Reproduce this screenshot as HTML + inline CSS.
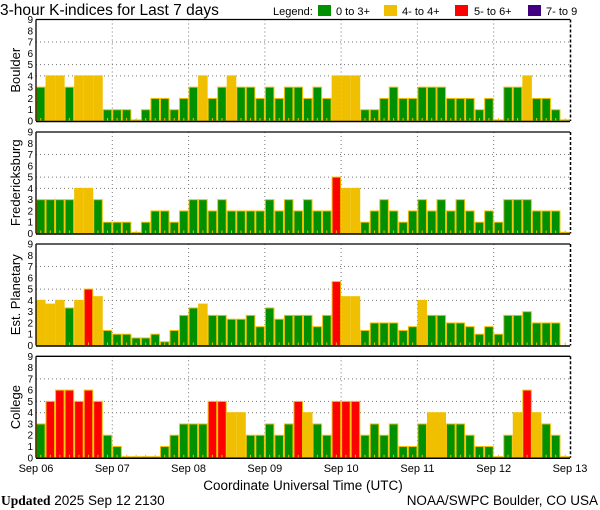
<!DOCTYPE html>
<html><head><meta charset="utf-8">
<style>
html,body{margin:0;padding:0;background:#fff;width:600px;height:510px;overflow:hidden}
svg{display:block}
text{font-family:"Liberation Sans",sans-serif}
</style></head>
<body>
<svg id="chart" width="600" height="510" viewBox="0 0 600 510" xmlns="http://www.w3.org/2000/svg">
  <text x="0" y="15" font-size="15.5" fill="#000">3-hour K-indices for Last 7 days</text>
  <g font-size="11">
    <text x="273" y="15">Legend:</text>
    <rect x="318" y="5" width="13" height="11" fill="#009000"/>
    <text x="336" y="15">0 to 3+</text>
    <rect x="384" y="5" width="13" height="11" fill="#f0c000"/>
    <text x="402" y="15">4- to 4+</text>
    <rect x="455" y="5" width="13" height="11" fill="#ff0000"/>
    <text x="474" y="15">5- to 6+</text>
    <rect x="528" y="5" width="13" height="11" fill="#400080"/>
    <text x="546" y="15">7- to 9</text>
  </g>
  <g id="panels"></g>
  <g id="xaxis"></g>
  <text x="303" y="490" font-size="13.5" text-anchor="middle">Coordinate Universal Time (UTC)</text>
  <text x="1" y="505" font-size="13.5"><tspan font-family="Liberation Serif, serif" font-weight="bold">Updated</tspan> 2025 Sep 12 2130</text>
  <text x="598" y="505" font-size="13.5" text-anchor="end">NOAA/SWPC Boulder, CO USA</text>
</svg>
<script>
const dayLabels = ["Sep 06","Sep 07","Sep 08","Sep 09","Sep 10","Sep 11","Sep 12","Sep 13"];
const yTicks = [0,1,2,3,4,5,6,7,8,9];
const gridLevels = [4,5,7];
const stationNames = ["Boulder","Fredericksburg","Est. Planetary","College"];
const boulder = [3,4,4,3,4,4,4,1, 1,1,0,1,2,2,1,2, 3,4,2,3,4,3,3,2, 3,2,3,3,2,3,2,4, 4,4,1,1,2,3,2,2, 3,3,3,2,2,2,1,2, 0,3,3,4,2,2,1,0];
const fredericksburg = [3,3,3,3,4,4,3,1, 1,1,0,1,2,2,1,2, 3,3,2,3,2,2,2,2, 3,2,3,2,3,2,2,5, 4,4,1,2,3,2,1,2, 3,2,3,2,3,2,1,2, 1,3,3,3,2,2,2,0];
const planetary = [4,3.67,4,3.33,4,5,4.33,1.33, 1,1,0.67,0.67,1,0.33,1.33,2.67, 3.33,3.67,2.67,2.67,2.33,2.33,2.67,1.67, 3.33,2.33,2.67,2.67,2.67,1.67,2.67,5.67, 4.33,4.33,1.33,2,2,2,1.33,1.67, 4,2.67,2.67,2,2,1.67,1,1.67, 1,2.67,2.67,3,2,2,2,null];
const college = [3,5,6,6,5,6,5,2, 1,0,0,0,0,1,2,3, 3,3,5,5,4,4,2,2, 3,2,3,5,4,3,2,5, 5,5,2,3,2,3,1,1, 3,4,4,3,3,2,1,1, 0,2,4,6,4,3,2,0];
</script>
<script>
(function(){
const NS="http://www.w3.org/2000/svg";
const series=[boulder,fredericksburg,planetary,college];
const tops=[19.5,132,244,356.3];
const H=101.5, X0=36, X1=570, N=56;
const bw=(X1-X0)/N;
const xAt=i=>X0+i*bw;
function mk(tag,attrs,parent){const e=document.createElementNS(NS,tag);for(const k in attrs)e.setAttribute(k,attrs[k]);parent.appendChild(e);return e;}
function color(v){return v>=6.67?"#400080":v>=4.67?"#ff0000":v>=3.67?"#f0c000":"#009000";}
const panels=document.getElementById("panels");
series.forEach((data,p)=>{
  const top=tops[p], y0=top+H;
  const yAt=v=>y0-v*(H/9);
  const g=mk("g",{},panels);
  
  
  gridLevels.forEach(l=>{
    const ln=mk("line",{x1:X0,x2:X1,y1:yAt(l),y2:yAt(l),stroke:"#777","stroke-width":1,"stroke-dasharray":"1,3"},g);
    
    
  });
  for(let d=1;d<7;d++){
    const ln=mk("line",{x1:xAt(d*8),x2:xAt(d*8),y1:top,y2:y0,stroke:"#777","stroke-width":1,"stroke-dasharray":"1,3"},g);
    
    
  }
  data.forEach((v,i)=>{
    if(v===null||v===undefined) return;
    const hv=Math.max(v,0.1);
    const r=mk("rect",{x:xAt(i)+0.5,y:yAt(hv),width:bw-1,height:y0-yAt(hv),fill:color(v),stroke:"#f0c000","stroke-width":1},g);
    
    
  });
  for(let i=0;i<N;i++){
    const m=mk("rect",{x:xAt(i)+bw/2-0.5,y:y0-3,width:1,height:3,fill:"#f0c000"},g);
    
    
  }
  const f1=mk("line",{x1:X0,x2:X1,y1:top,y2:top,stroke:"#000","stroke-width":1.3},g);
  
  
  const f2=mk("line",{x1:X0,x2:X1,y1:y0+0.5,y2:y0+0.5,stroke:"#000","stroke-width":1.5},g);
  
  
  const f3=mk("line",{x1:X0,x2:X0,y1:top,y2:y0,stroke:"#000","stroke-width":1.3},g);
  
  
  const f4=mk("line",{x1:X1+0.5,x2:X1+0.5,y1:top,y2:y0,stroke:"#000","stroke-width":1.5,"stroke-dasharray":"3,2"},g);
  
  
  yTicks.forEach(t=>{
    const tx=mk("text",{x:33,y:yAt(t)+3.5,"font-size":10,"text-anchor":"end"},g);
    tx.textContent=t;
    
    
  });
  const cy=top+H/2;
  const yt=mk("text",{x:16,y:cy,"font-size":13,"text-anchor":"middle",transform:"rotate(-90 16 "+cy+") translate(0 4)"},g);
  yt.textContent=stationNames[p];
  
  
});
const xa=document.getElementById("xaxis");
dayLabels.forEach((d,i)=>{
  const t=mk("text",{x:xAt(i*8),y:472,"font-size":11,"text-anchor":"middle"},xa);
  t.textContent=d;
  
  
});
})();
</script>
</body></html>
